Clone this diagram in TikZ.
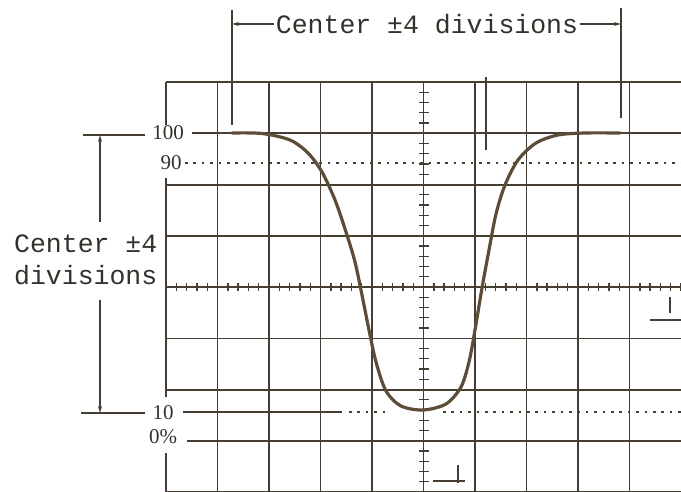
\documentclass[tikz,border=0pt]{standalone}
\usepackage{fontspec}
\setmonofont{Liberation Mono}
\newfontfamily\numfont{Liberation Serif}
\usetikzlibrary{arrows.meta,positioning}
\definecolor{ink}{RGB}{70,62,50}
\definecolor{trace}{RGB}{92,76,56}
\definecolor{txt}{RGB}{52,48,42}
\tikzset{
  gridln/.style ={ink, line width=1.9pt},
  tickln/.style ={ink, line width=1.4pt},
  dotln/.style  ={ink, line width=2.8pt, dash pattern=on 2.6pt off 5.8pt},
  traceln/.style={trace, line width=3.2pt, line cap=round},
  dimln/.style  ={ink, line width=1.3pt},
  dimarr/.style ={ink, line width=1.3pt, -{Stealth[length=7pt,width=4pt]}},
  markln/.style ={ink, line width=1.6pt},
  dimtxt/.style ={font=\fontsize{26.5}{32}\selectfont\ttfamily, text=txt,
                  inner sep=2pt},
  numlbl/.style ={font=\fontsize{21}{24}\selectfont\numfont, text=txt,
                  inner sep=0pt},
}
\begin{document}
\begin{tikzpicture}[x=1pt,y=-1pt]
  \useasboundingbox (0,0) rectangle (681,492);
  % ---- graticule
  \foreach \i in {1,...,9}
    \draw[gridln] (166+51.5*\i,82) -- (166+51.5*\i,492);
  \draw[gridln] (166,82) -- (166,125) (166,178) -- (166,397)
                (166,453) -- (166,492);
  \foreach \j in {0,2,3,4,5,6,8}
    \draw[gridln] (166,82+51.3*\j) -- (681,82+51.3*\j);
  \draw[gridln] (192,133.3) -- (681,133.3);
  \draw[gridln] (187,441.1) -- (681,441.1);
  % ---- minor ticks on the centre axes
  \foreach \k in {1,...,39}
    \draw[tickln] (419,82+10.25*\k) -- (429,82+10.25*\k);
  \foreach \k in {1,...,50}
    \draw[tickln] (166+10.3*\k,283) -- (166+10.3*\k,291);
  % ---- 90 and 10 levels
  \draw[dotln] (185,163) -- (681,163);
  \draw[gridln] (183,412) -- (342,412);
  \draw[dotln] (349,412) -- (390,412) (443,412) -- (681,412);
  % ---- small graticule marks
  \draw[gridln] (486,77) -- (486,150);
  \draw[markln] (670,297) -- (670,313);
  \draw[markln] (650,320) -- (681,320);
  \draw[markln] (458,465) -- (458,483);
  \draw[markln] (433,481) -- (465,481);
  % ---- the pulse
  \draw[traceln] plot[smooth, tension=0.5] coordinates {
    (232,133) (262,133.5) (290,140) (308,153) (322,172) (335,200)
    (346,232) (355,262) (362,295) (369,330) (376,362) (386,391)
    (401,406) (423,410) (446,404) (461,387) (469,362) (475,330)
    (482,288) (489,250) (496,214) (505,185) (518,160) (536,143)
    (558,135) (585,133) (620,133)};
  % ---- level labels
  \node[numlbl] (l100) at (168,133) {100};
  \node[numlbl] (l90)  at (171,163) {90};
  \node[numlbl] (l10)  at (163,413) {10};
  \node[numlbl] (l0)   at (163,437) {0\%};
  % ---- top dimension
  \node[dimtxt] (toplab) at (427,24) {Center ±4 divisions};
  \coordinate (ltop) at (232,24);
  \coordinate (rtop) at (621,24);
  \draw[dimln] (232,10) -- (232,125);
  \draw[dimln] (621,8) -- (621,118);
  \draw[dimarr] (toplab) -- (ltop);
  \draw[dimarr] (toplab) -- (rtop);
  % ---- side dimension
  \node[dimtxt, align=left, anchor=west] (sidelab) at (12,260)
    {Center ±4\\divisions};
  \coordinate (hitop) at (100,135);
  \coordinate (lobot) at (100,413);
  \coordinate (upbeg) at (100,222);
  \coordinate (dnbeg) at (100,300);
  \draw[dimln] (83,135) -- (145,135);
  \draw[dimln] (81,413) -- (145,413);
  \draw[dimarr] (upbeg) -- (hitop);
  \draw[dimarr] (dnbeg) -- (lobot);
\end{tikzpicture}
\end{document}
